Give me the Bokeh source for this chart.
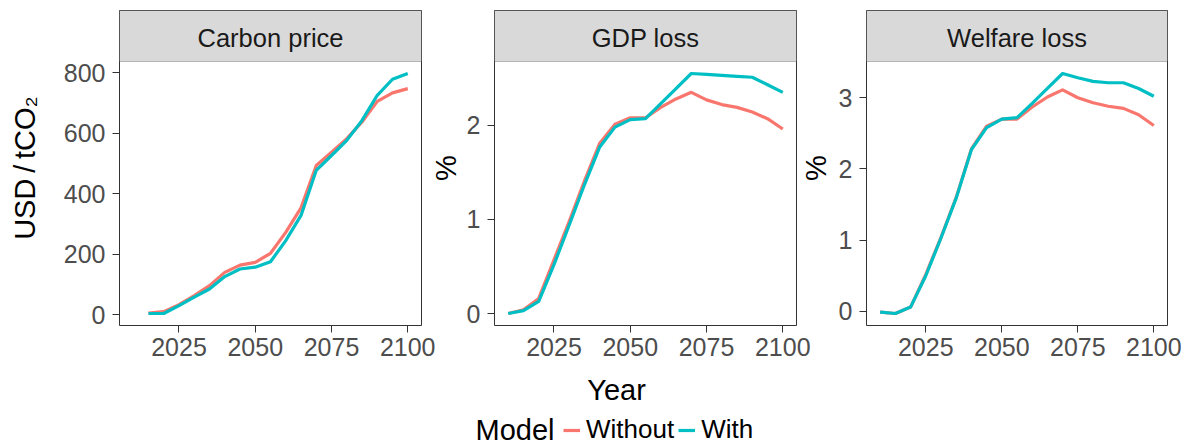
from bokeh.plotting import figure
from bokeh.models import Range1d, FixedTicker, BoxAnnotation, Label, Legend, LegendItem
from bokeh.layouts import row, column
from bokeh.embed import file_html
from bokeh.resources import INLINE

# ---------------- data ----------------
panel_titles = ["Carbon price", "GDP loss", "Welfare loss"]
series_names = ["Without", "With"]
series_colors = ["#F8766D", "#00BFC4"]

years_cp = [2015, 2020, 2025, 2030, 2035, 2040, 2045, 2050, 2055, 2060,
            2065, 2070, 2075, 2080, 2085, 2090, 2095, 2100]
cp_without = [5, 10, 33, 63, 96, 140, 164, 173, 203, 272,
              353, 493, 537, 582, 637, 705, 733, 747]
cp_with = [4, 4, 30, 58, 85, 126, 151, 157, 175, 245,
           328, 477, 526, 576, 642, 725, 778, 797]

years = [2010, 2015, 2020, 2025, 2030, 2035, 2040, 2045, 2050, 2055,
         2060, 2065, 2070, 2075, 2080, 2085, 2090, 2095, 2100]
gdp_without = [0.00, 0.04, 0.16, 0.57, 0.98, 1.41, 1.81, 2.01, 2.08, 2.08,
               2.19, 2.28, 2.35, 2.27, 2.22, 2.19, 2.14, 2.07, 1.96]
gdp_with = [0.00, 0.03, 0.13, 0.52, 0.94, 1.37, 1.77, 1.98, 2.06, 2.07,
            2.23, 2.39, 2.55, 2.54, 2.53, 2.52, 2.51, 2.43, 2.35]
wel_without = [-0.01, -0.03, 0.06, 0.52, 1.04, 1.60, 2.28, 2.60, 2.70, 2.70,
               2.87, 3.01, 3.11, 3.00, 2.93, 2.88, 2.85, 2.76, 2.61]
wel_with = [-0.01, -0.03, 0.06, 0.50, 1.03, 1.59, 2.27, 2.58, 2.70, 2.72,
            2.92, 3.13, 3.34, 3.28, 3.23, 3.21, 3.21, 3.13, 3.02]

x_ticks = [2025, 2050, 2075, 2100]
y_ticks = [[0, 200, 400, 600, 800], [0, 1, 2], [0, 1, 2, 3]]

y_titles = ["USD\u2009/\u2009tCO\u2082", "%", "%"]
x_title = "Year"
legend_title = "Model"

# ---------------- style / layout ----------------
FONT = "Liberation Sans"
ROW_H = 370
TOP_B = 10
DATA_H = 264
STRIP_H = 51
BOT_B = ROW_H - TOP_B - DATA_H - STRIP_H
BOTTOM_H = 447 - ROW_H

all_years = years_cp + years
xmin, xmax = min(all_years), max(all_years)
xpad = 0.05 * (xmax - xmin)
x_lo, x_hi = xmin - xpad, xmax + xpad


def make_panel(title, ytitle, xs, y_wo, y_w, yticks, width, bl, br, lab_standoff):
    ymin = min(min(y_wo), min(y_w))
    ymax = max(max(y_wo), max(y_w))
    span = ymax - ymin
    lo = ymin - 0.05 * span
    hi = ymax + 0.05 * span
    top = hi + (hi - lo) * STRIP_H / DATA_H
    p = figure(width=width, height=ROW_H, x_range=Range1d(x_lo, x_hi),
               y_range=Range1d(lo, top), output_backend="svg",
               toolbar_location=None, min_border_left=bl, min_border_right=br,
               min_border_top=TOP_B, min_border_bottom=BOT_B)
    p.background_fill_color = "white"
    p.border_fill_alpha = 0
    p.outline_line_color = "#333333"
    p.outline_line_width = 1
    p.xgrid.visible = False
    p.ygrid.visible = False
    for ax, ticks in ((p.xaxis, x_ticks), (p.yaxis, yticks)):
        ax.ticker = FixedTicker(ticks=ticks)
        ax.axis_line_color = None
        ax.major_tick_line_color = "#333333"
        ax.major_tick_out = 7
        ax.major_tick_in = 0
        ax.minor_tick_line_color = None
        ax.major_label_text_font = FONT
        ax.major_label_text_font_size = "25px"
        ax.major_label_text_color = "#4D4D4D"
    p.xaxis.major_label_standoff = 5
    p.yaxis.major_label_standoff = 7
    p.yaxis.axis_label = ytitle
    p.yaxis.axis_label_text_font = FONT
    p.yaxis.axis_label_text_font_size = "29px"
    p.yaxis.axis_label_text_font_style = "normal"
    p.yaxis.axis_label_text_color = "black"
    p.yaxis.axis_label_standoff = lab_standoff

    for ys, c in zip((y_wo, y_w), series_colors):
        p.line(xs, ys, line_color=c, line_width=3.2, line_join="round")

    strip = BoxAnnotation(bottom=hi, fill_color="#D9D9D9", fill_alpha=1,
                          line_color="#333333", line_width=1, level="underlay")
    p.add_layout(strip)
    plot_w = width - bl - br
    p.add_layout(Label(x=plot_w / 2, y=DATA_H + STRIP_H - 27, x_units="screen",
                       y_units="screen", text=title, text_align="center",
                       text_baseline="middle", text_font=FONT,
                       text_font_size="25.5px", text_color="#1A1A1A"))
    return p


p1 = make_panel(panel_titles[0], y_titles[0], years_cp, cp_without, cp_with, y_ticks[0],
                435, 119, 14, 20)
p2 = make_panel(panel_titles[1], y_titles[1], years, gdp_without, gdp_with, y_ticks[1],
                387, 69, 16, 2)
p3 = make_panel(panel_titles[2], y_titles[2], years, wel_without, wel_with, y_ticks[2],
                412, 94, 17, 4)
p2.margin = (0, 0, 0, -10)
p3.margin = (0, 0, 0, -40)

# bottom strip: x-axis title and legend
pb = figure(width=1185, height=BOTTOM_H, x_range=Range1d(x_lo, x_hi),
            y_range=Range1d(-1, 4), output_backend="svg", toolbar_location=None,
            min_border=0, x_axis_type=None, y_axis_type=None)
pb.outline_line_color = None
pb.background_fill_alpha = 0
pb.border_fill_alpha = 0
pb.xgrid.visible = False
pb.ygrid.visible = False
key_lines = []
for ys, c in zip((gdp_without, gdp_with), series_colors):
    key_lines.append(pb.line(years, ys, line_color=c, line_width=3.2, visible=False))

pb.add_layout(Label(x=616, y=58, x_units="screen", y_units="screen",
                    text=x_title, text_align="center", text_baseline="alphabetic",
                    text_font=FONT, text_font_size="29px", text_color="black"))
pb.add_layout(Label(x=475, y=18, x_units="screen", y_units="screen",
                    text=legend_title, text_align="left", text_baseline="alphabetic",
                    text_font=FONT, text_font_size="29px", text_color="black"))
legend = Legend(items=[LegendItem(label=n, renderers=[r]) for n, r in zip(series_names, key_lines)],
                orientation="horizontal", location=(563, 2),
                border_line_color=None, background_fill_alpha=0,
                padding=0, margin=0, spacing=4, label_standoff=6,
                glyph_width=17, glyph_height=26, label_height=26,
                label_text_font=FONT, label_text_font_size="26px",
                label_text_color="black", inactive_fill_alpha=0)
pb.add_layout(legend)

layout = column(row(p1, p2, p3), pb)
open("out.html", "w").write(file_html(layout, INLINE))
